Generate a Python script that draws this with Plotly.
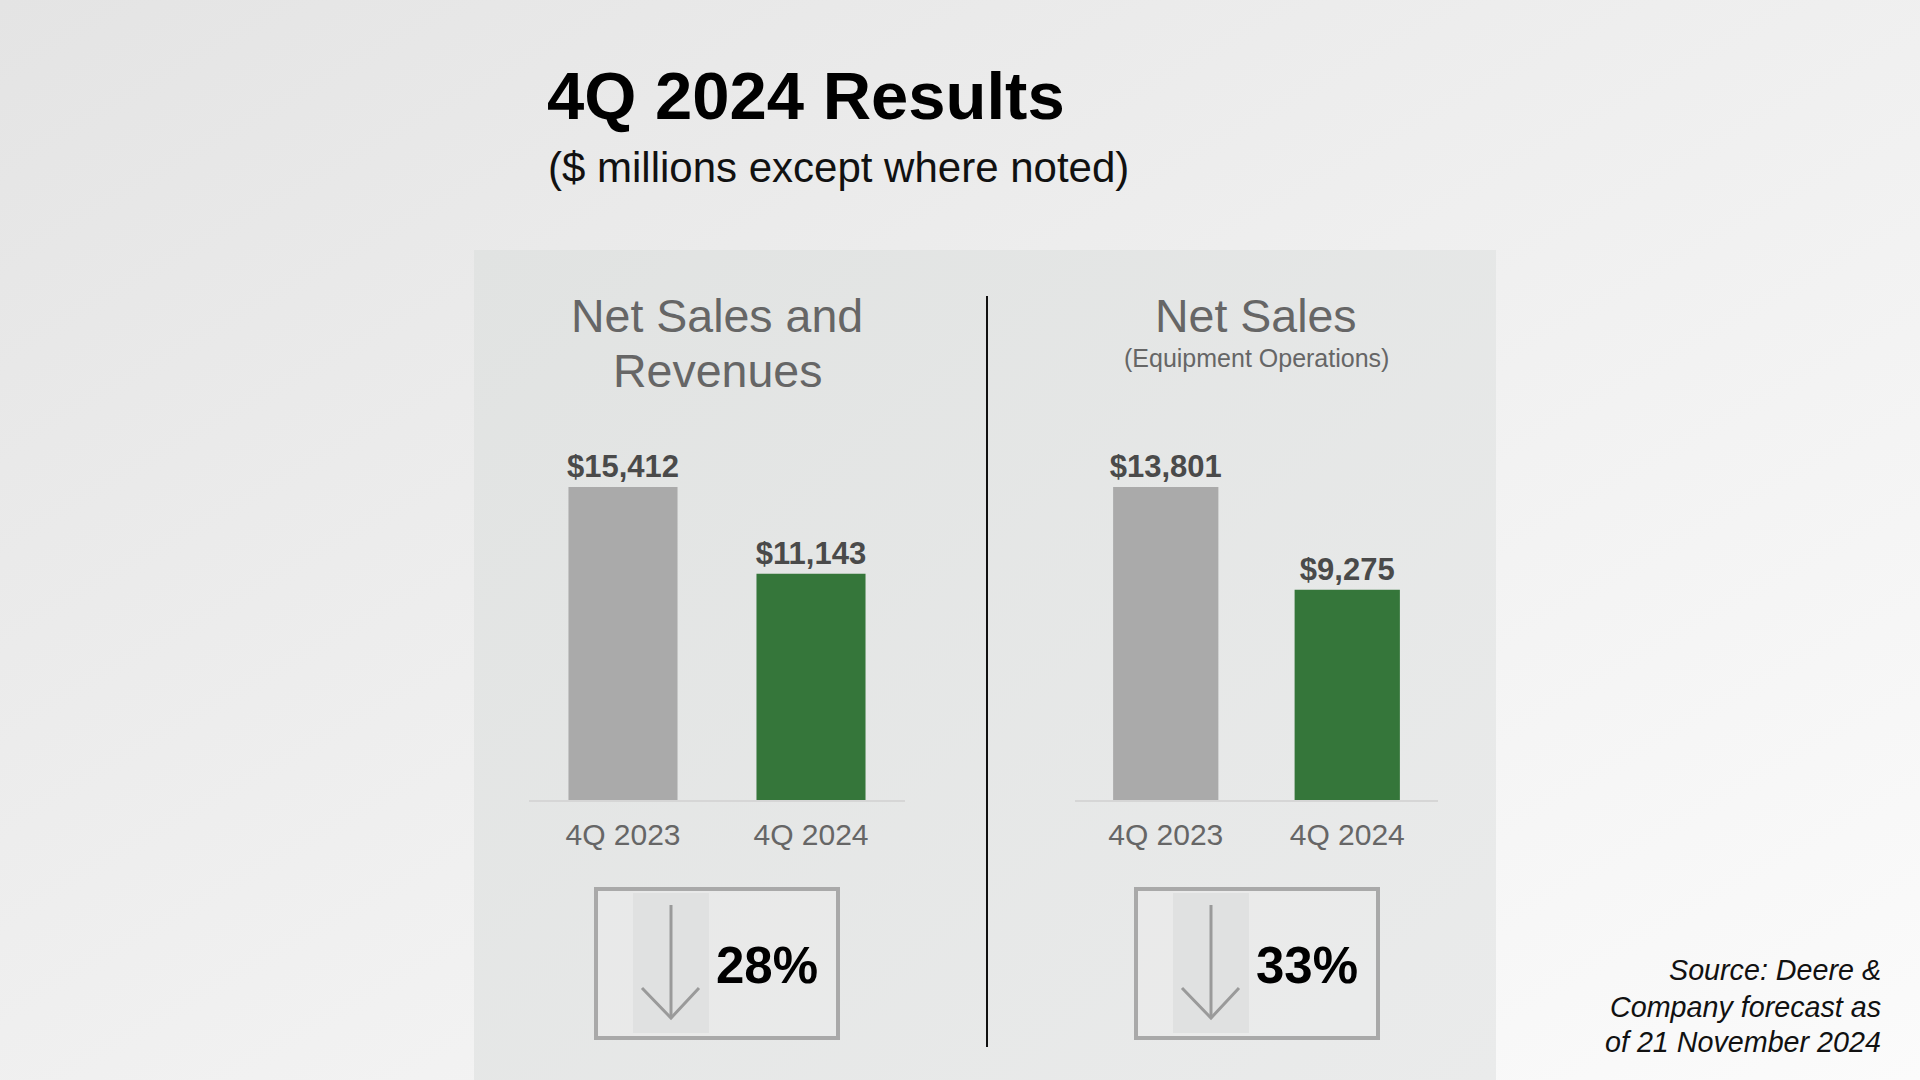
import base64
import plotly.graph_objects as go

W, H = 1920, 1080

# ---------------- data ----------------
categories = ["4Q 2023", "4Q 2024"]
net_sales_and_revenues = [15412, 11143]
net_sales_equipment = [13801, 9275]
declines = ["28%", "33%"]
left_title_lines = ["Net Sales and", "Revenues"]
right_title = "Net Sales"
right_subtitle = "(Equipment Operations)"
main_title = "4Q 2024 Results"
main_subtitle = "($ millions except where noted)"
source_lines = ["Source: Deere &", "Company forecast as", "of 21 November 2024"]
bar_colors = ["#aaaaaa", "#35763a"]

FONT = "Liberation Sans, Arial, sans-serif"


def px(x):
    return x / W


def py(y):
    return 1 - y / H


def svg_grad(c0, c1, x2=1, y2=1):
    svg = (
        '<svg xmlns="http://www.w3.org/2000/svg" width="400" height="400" '
        'preserveAspectRatio="none" viewBox="0 0 400 400">'
        f'<defs><linearGradient id="g" x1="0" y1="0" x2="{x2}" y2="{y2}">'
        f'<stop offset="0" stop-color="{c0}"/><stop offset="1" stop-color="{c1}"/>'
        '</linearGradient></defs><rect width="400" height="400" fill="url(#g)"/></svg>'
    )
    return "data:image/svg+xml;base64," + base64.b64encode(svg.encode()).decode()


fig = go.Figure()

# bars
for vals, xa, ya in [(net_sales_and_revenues, "x", "y"), (net_sales_equipment, "x2", "y2")]:
    fig.add_trace(go.Bar(
        x=categories, y=vals, xaxis=xa, yaxis=ya,
        marker=dict(color=bar_colors, line=dict(width=0)),
        texttemplate="<b>$%{y:,}</b>", textposition="outside",
        textfont=dict(family=FONT, size=31, color="#4a4a4a"),
        constraintext="none", cliponaxis=False, hoverinfo="skip",
        showlegend=False,
    ))

ydom = [py(800), py(420)]
scale = 380 / 313
axis_common = dict(showgrid=False, zeroline=False, showline=True, linecolor="#d6d6d6",
                   linewidth=2, ticks="", tickfont=dict(family=FONT, size=30, color="#666666"),
                   fixedrange=True, ticklabelstandoff=7)
yaxis_common = dict(visible=False, fixedrange=True)

layout_images = [
    dict(source=svg_grad("#e4e4e4", "#fbfbfb"), xref="paper", yref="paper", x=0, y=1,
         sizex=1, sizey=1, xanchor="left", yanchor="top", sizing="stretch", layer="below"),
    dict(source=svg_grad("#e1e3e2", "#eaebeb"), xref="paper", yref="paper",
         x=px(474), y=py(250), sizex=px(1496) - px(474), sizey=py(250) - py(1080),
         xanchor="left", yanchor="top", sizing="stretch", layer="below"),
]

shapes = [
    # divider
    dict(type="line", xref="paper", yref="paper", x0=px(987), x1=px(987), y0=py(296), y1=py(1047),
         line=dict(color="#111111", width=2)),
]

annotations = [
    dict(text="<b>" + main_title + "</b>", x=px(545), y=py(95), xanchor="left", yanchor="middle",
         font=dict(family=FONT, size=67, color="#000000")),
    dict(text=main_subtitle, x=px(546), y=py(167), xanchor="left", yanchor="middle",
         font=dict(family=FONT, size=42, color="#111111")),
    dict(text=left_title_lines[0], x=px(717), y=py(316), xanchor="center", yanchor="middle",
         font=dict(family=FONT, size=46.5, color="#666666")),
    dict(text=left_title_lines[1], x=px(717), y=py(371), xanchor="center", yanchor="middle",
         font=dict(family=FONT, size=46.5, color="#666666")),
    dict(text=right_title, x=px(1256), y=py(316), xanchor="center", yanchor="middle",
         font=dict(family=FONT, size=46.5, color="#666666")),
    dict(text=right_subtitle, x=px(1256), y=py(358), xanchor="center", yanchor="middle",
         font=dict(family=FONT, size=25, color="#666666")),
]

for line, yc in zip(source_lines, [970, 1006.5, 1042]):
    annotations.append(dict(text=line, x=px(1883), y=py(yc), xanchor="right", yanchor="middle",
                            align="right",
                            font=dict(family=FONT, size=28.7, color="#111111", style="italic")))

# decline boxes
for box_left, label in zip([594, 1134], declines):
    shapes.append(dict(type="rect", xref="paper", yref="paper",
                       x0=px(box_left + 2), x1=px(box_left + 244), y0=py(889), y1=py(1038),
                       line=dict(color="#a9a9a9", width=4), fillcolor="rgba(235,236,236,0.5)"))
    shapes.append(dict(type="rect", xref="paper", yref="paper",
                       x0=px(box_left + 39), x1=px(box_left + 115), y0=py(893), y1=py(1033),
                       line=dict(width=0), fillcolor="#e0e1e1"))
    ax = box_left + 77
    shapes.append(dict(type="line", xref="paper", yref="paper", x0=px(ax), x1=px(ax),
                       y0=py(905), y1=py(1018), line=dict(color="#9a9a9a", width=3)))
    shapes.append(dict(type="path", xref="paper", yref="paper",
                       path=f"M {px(ax - 29)} {py(988)} L {px(ax)} {py(1018)} L {px(ax + 28)} {py(988)}",
                       line=dict(color="#9a9a9a", width=3)))
    annotations.append(dict(text="<b>" + label + "</b>", x=px(box_left + 173), y=py(965),
                            xanchor="center", yanchor="middle",
                            font=dict(family=FONT, size=51, color="#000000")))

for a in annotations:
    a.update(xref="paper", yref="paper", showarrow=False)

fig.update_layout(
    width=W, height=H, margin=dict(l=0, r=0, t=0, b=0, pad=0),
    paper_bgcolor="#ececec", plot_bgcolor="rgba(0,0,0,0)",
    bargap=0.42,
    xaxis=dict(domain=[px(529), px(905)], anchor="y", **axis_common),
    xaxis2=dict(domain=[px(1075), px(1438)], anchor="y2", **axis_common),
    yaxis=dict(domain=ydom, range=[0, max(net_sales_and_revenues) * scale], anchor="x", **yaxis_common),
    yaxis2=dict(domain=ydom, range=[0, max(net_sales_equipment) * scale], anchor="x2", **yaxis_common),
    images=layout_images, shapes=shapes, annotations=annotations,
)

fig.write_html("out.html", config={"displayModeBar": False, "staticPlot": True},
               post_script="document.body.style.margin='0';document.body.style.overflow='hidden';")
